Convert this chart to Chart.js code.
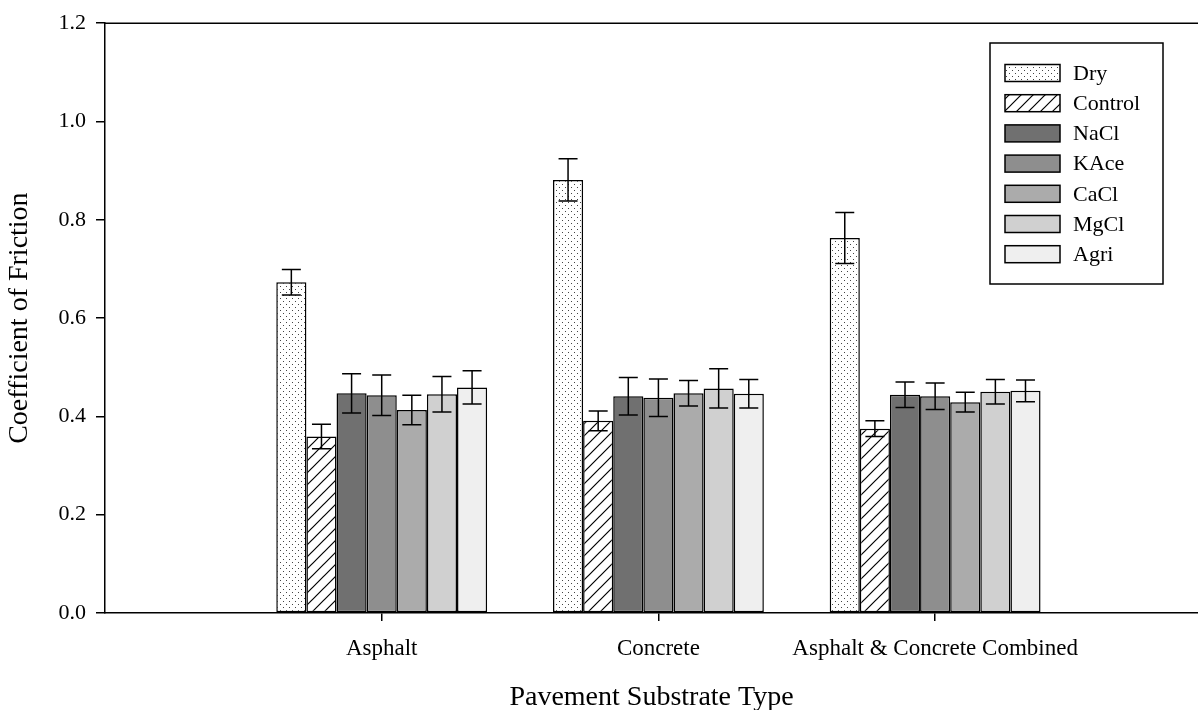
<!DOCTYPE html>
<html>
<head>
<meta charset="utf-8">
<script src="https://cdn.jsdelivr.net/npm/chart.js@4"></script>
<style>
  body { margin: 0; background: #fff; overflow: hidden; }
  canvas { display: block; }
</style>
</head>
<body>
<canvas id="frictionChart" width="1198" height="710"></canvas>
<script>
const categories = ["Asphalt", "Concrete", "Asphalt & Concrete Combined"];
const yTicks = [0.0, 0.2, 0.4, 0.6, 0.8, 1.0, 1.2];

const seriesNames = ["Dry", "Control", "NaCl", "KAce", "CaCl", "MgCl", "Agri"];
const dry     = [0.673, 0.881, 0.763];
const control = [0.359, 0.391, 0.375];
const nacl    = [0.447, 0.441, 0.444];
const kace    = [0.443, 0.438, 0.441];
const cacl    = [0.413, 0.447, 0.429];
const mgcl    = [0.445, 0.457, 0.450];
const agri    = [0.459, 0.446, 0.452];

const dryErr     = [0.026, 0.043, 0.052];
const controlErr = [0.025, 0.020, 0.016];
const naclErr    = [0.040, 0.038, 0.026];
const kaceErr    = [0.041, 0.038, 0.027];
const caclErr    = [0.030, 0.026, 0.020];
const mgclErr    = [0.036, 0.040, 0.025];
const agriErr    = [0.034, 0.029, 0.022];

const serif = "'Liberation Serif', 'Times New Roman', serif";

function dotPattern() {
  const c = document.createElement("canvas");
  c.width = 6; c.height = 6;
  const g = c.getContext("2d");
  g.fillStyle = "#fff";
  g.fillRect(0, 0, 6, 6);
  g.fillStyle = "#444";
  g.fillRect(1, 1, 1, 1);
  g.fillRect(4, 4, 1, 1);
  return g.createPattern(c, "repeat");
}

function hatchPattern() {
  const c = document.createElement("canvas");
  c.width = 12; c.height = 12;
  const g = c.getContext("2d");
  g.fillStyle = "#fff";
  g.fillRect(0, 0, 12, 12);
  g.strokeStyle = "#000";
  g.lineWidth = 1.2;
  g.beginPath();
  g.moveTo(-1, 13); g.lineTo(13, -1);
  g.moveTo(-7, 7); g.lineTo(7, -7);
  g.moveTo(5, 19); g.lineTo(19, 5);
  g.stroke();
  return g.createPattern(c, "repeat");
}

const fills = [dotPattern(), hatchPattern(), "#707070", "#8e8e8e", "#ababab", "#d0d0d0", "#efefef"];
const values = [dry, control, nacl, kace, cacl, mgcl, agri];
const errors = [dryErr, controlErr, naclErr, kaceErr, caclErr, mgclErr, agriErr];

const datasets = seriesNames.map((name, i) => ({
  label: name,
  data: values[i].map((v, j) => ({ x: j + 1, y: v })),
  errs: errors[i],
  backgroundColor: fills[i],
  borderColor: "#000",
  borderWidth: 1.5,
  borderSkipped: false,
  categoryPercentage: 0.762,
  barPercentage: 1.0
}));

const errorBars = {
  id: "errorBars",
  afterDatasetsDraw(chart) {
    const ctx = chart.ctx;
    const yScale = chart.scales.y;
    ctx.save();
    ctx.strokeStyle = "#000";
    ctx.lineWidth = 1.5;
    chart.data.datasets.forEach((ds, i) => {
      const meta = chart.getDatasetMeta(i);
      meta.data.forEach((bar, j) => {
        const v = ds.data[j].y;
        const e = ds.errs[j];
        const top = yScale.getPixelForValue(v + e);
        const bot = yScale.getPixelForValue(v - e);
        const x = bar.x;
        ctx.beginPath();
        ctx.moveTo(x, top); ctx.lineTo(x, bot);
        ctx.moveTo(x - 9.5, top); ctx.lineTo(x + 9.5, top);
        ctx.moveTo(x - 9.5, bot); ctx.lineTo(x + 9.5, bot);
        ctx.stroke();
      });
    });
    ctx.restore();
  }
};

const frameAndLegend = {
  id: "frameAndLegend",
  afterDraw(chart) {
    const ctx = chart.ctx;
    const area = chart.chartArea;
    ctx.save();
    ctx.strokeStyle = "#000";
    ctx.lineWidth = 1.5;
    ctx.beginPath();
    ctx.moveTo(area.left, area.top);
    ctx.lineTo(area.right, area.top);
    ctx.stroke();

    // legend box
    const bx = 990, by = 43, bw = 173, bh = 241;
    ctx.fillStyle = "#fff";
    ctx.fillRect(bx, by, bw, bh);
    ctx.strokeRect(bx, by, bw, bh);
    ctx.font = "22px " + serif;
    ctx.textBaseline = "middle";
    chart.data.datasets.forEach((ds, i) => {
      const cy = 73 + i * 30.2;
      ctx.fillStyle = ds.backgroundColor;
      ctx.fillRect(1005, cy - 8.5, 55, 17);
      ctx.strokeRect(1005, cy - 8.5, 55, 17);
      ctx.fillStyle = "#000";
      ctx.fillText(ds.label, 1073, cy + 1);
    });
    ctx.restore();
  }
};

new Chart(document.getElementById("frictionChart"), {
  type: "bar",
  data: { datasets },
  plugins: [errorBars, frameAndLegend],
  options: {
    responsive: false,
    animation: false,
    layout: { padding: { top: 21, right: 0, left: 0, bottom: 0 } },
    plugins: {
      legend: { display: false },
      tooltip: { enabled: false }
    },
    scales: {
      x: {
        type: "linear",
        min: 0,
        max: 3.95,
        offset: false,
        afterBuildTicks: scale => {
          scale.ticks = categories.map((c, i) => ({ value: i + 1 }));
        },
        afterFit: scale => { scale.height = 97; },
        ticks: {
          callback: v => categories[v - 1] || "",
          autoSkip: false,
          maxRotation: 0,
          color: "#000",
          padding: 14,
          font: { family: serif, size: 23 }
        },
        grid: { offset: false, drawOnChartArea: false, tickLength: 8, color: "#000", lineWidth: 1.5 },
        border: { color: "#000", width: 1.5 },
        title: {
          display: true,
          text: "Pavement Substrate Type",
          color: "#000",
          font: { family: serif, size: 28 },
          padding: { top: 0, bottom: -4 }
        }
      },
      y: {
        min: 0,
        max: 1.2,
        afterBuildTicks: scale => {
          scale.ticks = yTicks.map(v => ({ value: v }));
        },
        afterFit: scale => { scale.width = 105; },
        ticks: {
          callback: v => v.toFixed(1),
          color: "#000",
          padding: 10,
          font: { family: serif, size: 22 }
        },
        grid: { drawOnChartArea: false, tickLength: 9, color: "#000", lineWidth: 1.5 },
        border: { color: "#000", width: 1.5 },
        title: {
          display: true,
          text: "Coefficient of Friction",
          color: "#000",
          font: { family: serif, size: 28 },
          padding: { top: 3, bottom: 0 }
        }
      }
    }
  }
});
</script>
</body>
</html>
